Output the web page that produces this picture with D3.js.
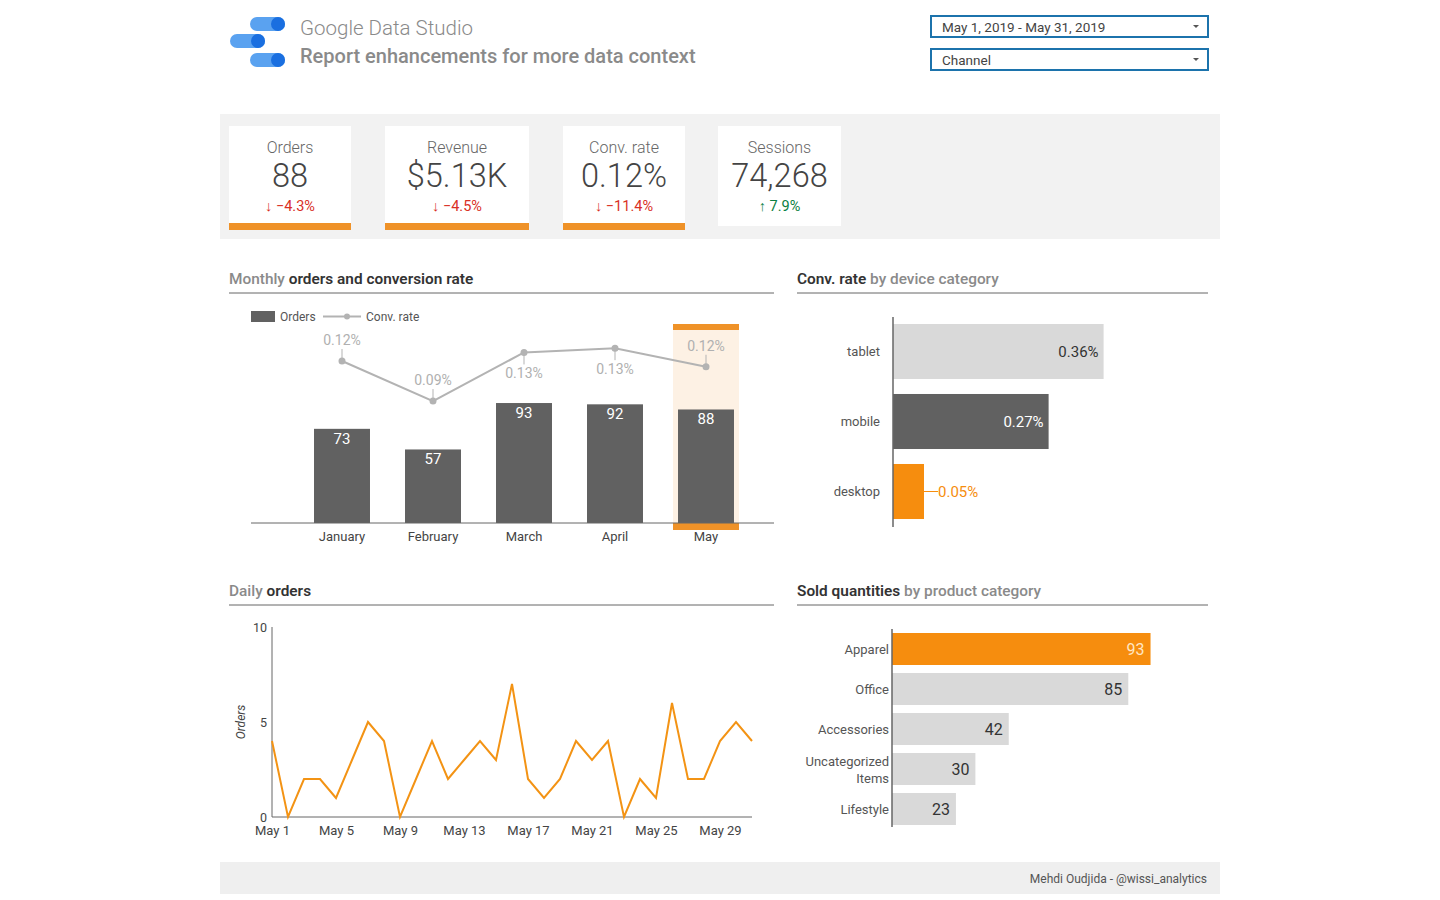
<!DOCTYPE html>
<html>
<head>
<meta charset="utf-8">
<script src="https://cdn.jsdelivr.net/npm/d3@7"></script>
<style>
  body { margin: 0; background: #fff; font-family: Roboto, "Open Sans", sans-serif; }
  svg text { font-family: Roboto, sans-serif; }
</style>
</head>
<body>
<div id="dashboard"></div>
<script>
// Scorecards
var kpiLabels = ["Orders", "Revenue", "Conv. rate", "Sessions"]
var kpiValues = ["88", "$5.13K", "0.12%", "74,268"]
var kpiDeltas = [-4.3, -4.5, -11.4, 7.9]

// Monthly orders and conversion rate
var months = ["January", "February", "March", "April", "May"]
var monthlyOrders = [73, 57, 93, 92, 88]
var monthlyConv = [0.122, 0.094, 0.128, 0.131, 0.118]
var convLabelAbove = [true, true, false, false, true]

// Conv. rate by device category
var devices = ["tablet", "mobile", "desktop"]
var deviceConv = [0.36, 0.266, 0.053]

// Daily orders (May 1 - May 31)
var dayNumbers = d3.range(1, 32)
var dailyOrders = [4, 0, 2, 2, 1, 3, 5, 4, 0, 2, 4, 2, 3, 4, 3, 7, 2, 1, 2, 4, 3, 4, 0, 2, 1, 6, 2, 2, 4, 5, 4]
var dailyTicks = [1, 5, 9, 13, 17, 21, 25, 29]

// Sold quantities by product category
var products = ["Apparel", "Office", "Accessories", "Uncategorized Items", "Lifestyle"]
var productQty = [93, 85, 42, 30, 23]

var orange = "#f68d0e"
var darkGray = "#616161"
var lightGray = "#d9d9d9"

var svg = d3.select("#dashboard").append("svg")
  .attr("width", 1440)
  .attr("height", 900)

// ---------- Header ----------
var logo = svg.append("g").attr("transform", "translate(230,17)")
var pills = [{ x: 20, y: 0 }, { x: 0, y: 17 }, { x: 20, y: 36 }]
pills.forEach(function (p) {
  logo.append("rect").attr("x", p.x).attr("y", p.y).attr("width", 35).attr("height", 14)
    .attr("rx", 7).attr("fill", "#5aa2f0")
  logo.append("circle").attr("cx", p.x + 28).attr("cy", p.y + 7).attr("r", 7).attr("fill", "#1a6fe0")
})

svg.append("text").attr("x", 300).attr("y", 35)
  .attr("font-size", 20.5).attr("font-weight", 300).attr("fill", "#8a8a8a")
  .text("Google Data Studio")
svg.append("text").attr("x", 300).attr("y", 63)
  .attr("font-size", 20).attr("font-weight", 500).attr("fill", "#8a8a8a")
  .text("Report enhancements for more data context")

// Date range + filter controls
var controls = ["May 1, 2019 - May 31, 2019", "Channel"]
controls.forEach(function (c, i) {
  var g = svg.append("g").attr("transform", "translate(931," + (16 + i * 33) + ")")
  g.append("rect").attr("width", 277).attr("height", 21)
    .attr("fill", "#fff").attr("stroke", "#1c73ac").attr("stroke-width", 2)
  g.append("text").attr("x", 11).attr("y", 15.5).attr("font-size", 13.5).attr("fill", "#444").text(c)
  g.append("path").attr("d", "M262,9 l6,0 l-3,3 z").attr("fill", "#555")
})

// ---------- Scorecards ----------
svg.append("rect").attr("x", 220).attr("y", 114).attr("width", 1000).attr("height", 125).attr("fill", "#f2f2f2")

var cardX = [229, 385, 563, 718]
var cardW = [122, 144, 122, 123]
kpiLabels.forEach(function (label, i) {
  var g = svg.append("g").attr("transform", "translate(" + cardX[i] + ",126)")
  var w = cardW[i]
  var up = kpiDeltas[i] > 0
  g.append("rect").attr("width", w).attr("height", up ? 100 : 104).attr("fill", "#fff")
  if (!up) {
    g.append("rect").attr("y", 97).attr("width", w).attr("height", 7).attr("fill", "#ef9228")
  }
  g.append("text").attr("x", w / 2).attr("y", 27).attr("text-anchor", "middle")
    .attr("font-size", 16).attr("font-weight", 300).attr("fill", "#666").text(label)
  g.append("text").attr("x", w / 2).attr("y", 61).attr("text-anchor", "middle")
    .attr("font-size", 32.5).attr("font-weight", 300).attr("fill", "#444").text(kpiValues[i])
  g.append("text").attr("x", w / 2).attr("y", 85).attr("text-anchor", "middle")
    .attr("font-size", 14.5).attr("fill", up ? "#0b8043" : "#d93025")
    .text((up ? "\u2191 " : "\u2193 ") + d3.format(".1f")(kpiDeltas[i]) + "%")
})

// ---------- Section titles ----------
function sectionTitle(x, y, w, parts) {
  var t = svg.append("text").attr("x", x).attr("y", y).attr("font-size", 15.4)
  parts.forEach(function (p) {
    t.append("tspan").attr("font-weight", p.bold ? 600 : 500).attr("fill", p.bold ? "#333" : "#8a8a8a").text(p.t)
  })
  svg.append("line").attr("x1", x).attr("x2", x + w).attr("y1", y + 9).attr("y2", y + 9)
    .attr("stroke", "#666").attr("stroke-width", 1)
}
sectionTitle(229, 284, 545, [{ t: "Monthly " }, { t: "orders and conversion rate", bold: true }])
sectionTitle(797, 284, 411, [{ t: "Conv. rate", bold: true }, { t: " by device category" }])
sectionTitle(229, 596, 545, [{ t: "Daily " }, { t: "orders", bold: true }])
sectionTitle(797, 596, 411, [{ t: "Sold quantities", bold: true }, { t: " by product category" }])

// ---------- Monthly orders and conversion rate ----------
var mx = d3.scaleBand().domain(months).range([296.5, 751.5]).paddingInner(0.385).paddingOuter(0.1925)
var my = d3.scaleLinear().domain([0, 100]).range([523, 394])
var my2 = d3.scaleLinear().domain([0.05, 0.15]).range([464, 321])

// highlight for selected month
var hl = mx("May") + mx.bandwidth() / 2
svg.append("rect").attr("x", hl - 33).attr("y", 324).attr("width", 66).attr("height", 206).attr("fill", "#fdf1e4")
svg.append("rect").attr("x", hl - 33).attr("y", 324).attr("width", 66).attr("height", 6).attr("fill", "#ef9228")

svg.append("g").selectAll("rect").data(months).enter().append("rect")
  .attr("x", function (d) { return mx(d) })
  .attr("y", function (d, i) { return my(monthlyOrders[i]) })
  .attr("width", mx.bandwidth())
  .attr("height", function (d, i) { return my(0) - my(monthlyOrders[i]) })
  .attr("fill", darkGray)

svg.append("g").selectAll("text").data(months).enter().append("text")
  .attr("x", function (d) { return mx(d) + mx.bandwidth() / 2 })
  .attr("y", function (d, i) { return my(monthlyOrders[i]) + 15 })
  .attr("text-anchor", "middle").attr("font-size", 15).attr("fill", "#fff")
  .text(function (d, i) { return monthlyOrders[i] })

svg.append("rect").attr("x", hl - 33).attr("y", 523).attr("width", 66).attr("height", 7).attr("fill", "#ef9228")

var xAxisM = svg.append("g").attr("transform", "translate(0,523)")
  .call(d3.axisBottom(mx).tickSize(0).tickPadding(9))
xAxisM.select(".domain").remove()
xAxisM.selectAll("text").attr("font-size", 13).attr("fill", "#444")
svg.append("line").attr("x1", 251).attr("x2", 774).attr("y1", 523).attr("y2", 523).attr("stroke", "#666")

var convLine = d3.line()
  .x(function (d, i) { return mx(months[i]) + mx.bandwidth() / 2 })
  .y(function (d) { return my2(d) })
svg.append("path").datum(monthlyConv).attr("d", convLine)
  .attr("fill", "none").attr("stroke", "#b3b3b3").attr("stroke-width", 2)

var convPts = svg.append("g").selectAll("g").data(monthlyConv).enter().append("g")
  .attr("transform", function (d, i) {
    return "translate(" + (mx(months[i]) + mx.bandwidth() / 2) + "," + my2(d) + ")"
  })
convPts.append("circle").attr("r", 3.5).attr("fill", "#b3b3b3")
convPts.append("line").attr("x1", 0).attr("x2", 0).attr("y1", 0)
  .attr("y2", function (d, i) { return convLabelAbove[i] ? -12 : 12 })
  .attr("stroke", "#b3b3b3")
convPts.append("text").attr("text-anchor", "middle").attr("font-size", 14).attr("fill", "#b0b0b0")
  .attr("y", function (d, i) { return convLabelAbove[i] ? -16 : 26 })
  .text(function (d) { return d3.format(".2f")(d) + "%" })

// legend
var legend = svg.append("g").attr("transform", "translate(251,311)")
legend.append("rect").attr("width", 24).attr("height", 11).attr("fill", darkGray)
legend.append("text").attr("x", 29).attr("y", 10).attr("font-size", 12).attr("fill", "#555").text("Orders")
legend.append("line").attr("x1", 72).attr("x2", 110).attr("y1", 5.5).attr("y2", 5.5).attr("stroke", "#b3b3b3").attr("stroke-width", 2)
legend.append("circle").attr("cx", 96).attr("cy", 5.5).attr("r", 3).attr("fill", "#b3b3b3")
legend.append("text").attr("x", 115).attr("y", 10).attr("font-size", 12).attr("fill", "#555").text("Conv. rate")

// ---------- Conv. rate by device category ----------
var dy = d3.scaleBand().domain(devices).range([316.5, 526.5]).paddingInner(0.214).paddingOuter(0.107)
var dx = d3.scaleLinear().domain([0, 0.4]).range([893, 1127])
var deviceColor = [lightGray, darkGray, orange]

svg.append("g").selectAll("rect").data(devices).enter().append("rect")
  .attr("x", dx(0)).attr("y", function (d) { return dy(d) })
  .attr("width", function (d, i) { return dx(deviceConv[i]) - dx(0) })
  .attr("height", dy.bandwidth())
  .attr("fill", function (d, i) { return deviceColor[i] })

devices.forEach(function (d, i) {
  var cy = dy(d) + dy.bandwidth() / 2
  var end = dx(deviceConv[i])
  var label = d3.format(".2f")(deviceConv[i]) + "%"
  if (i < 2) {
    svg.append("text").attr("x", end - 5).attr("y", cy + 5).attr("text-anchor", "end")
      .attr("font-size", 15).attr("fill", i === 0 ? "#333" : "#fff").text(label)
  } else {
    svg.append("line").attr("x1", end).attr("x2", end + 14).attr("y1", cy).attr("y2", cy).attr("stroke", orange)
    svg.append("text").attr("x", end + 14).attr("y", cy + 5)
      .attr("font-size", 15).attr("fill", orange).text(label)
  }
})

var yAxisD = svg.append("g").attr("transform", "translate(893,0)")
  .call(d3.axisLeft(dy).tickSize(0).tickPadding(13))
yAxisD.select(".domain").remove()
yAxisD.selectAll("text").attr("font-size", 13).attr("fill", "#555")
svg.append("line").attr("x1", 893).attr("x2", 893).attr("y1", 317).attr("y2", 527).attr("stroke", "#666").attr("stroke-width", 1.5)

// ---------- Daily orders ----------
var tx = d3.scaleLinear().domain([1, 31]).range([272, 752])
var ty = d3.scaleLinear().domain([0, 10]).range([817, 627])

var yAxisT = svg.append("g").attr("transform", "translate(272,0)")
  .call(d3.axisLeft(ty).tickValues([0, 5, 10]).tickSize(0).tickPadding(5))
yAxisT.select(".domain").remove()
yAxisT.selectAll("text").attr("font-size", 12.5).attr("fill", "#444")

var xAxisT = svg.append("g").attr("transform", "translate(0,817)")
  .call(d3.axisBottom(tx).tickValues(dailyTicks).tickSize(0).tickPadding(9)
    .tickFormat(function (d) { return "May " + d }))
xAxisT.select(".domain").remove()
xAxisT.selectAll("text").attr("font-size", 13).attr("fill", "#444")

svg.append("line").attr("x1", 272).attr("x2", 272).attr("y1", 627).attr("y2", 817).attr("stroke", "#666")
svg.append("line").attr("x1", 272).attr("x2", 752).attr("y1", 817).attr("y2", 817).attr("stroke", "#666")

svg.append("text").attr("transform", "translate(245,722) rotate(-90)")
  .attr("text-anchor", "middle").attr("font-size", 12).attr("font-style", "italic").attr("fill", "#444")
  .text("Orders")

var dailyLine = d3.line()
  .x(function (d, i) { return tx(dayNumbers[i]) })
  .y(function (d) { return ty(d) })
svg.append("path").datum(dailyOrders).attr("d", dailyLine)
  .attr("fill", "none").attr("stroke", "#f39314").attr("stroke-width", 2)

// ---------- Sold quantities by product category ----------
var py = d3.scaleBand().domain(products).range([629, 829]).paddingInner(0.2).paddingOuter(0.1)
var px = d3.scaleLinear().domain([0, 100]).range([892, 1170])

svg.append("g").selectAll("rect").data(products).enter().append("rect")
  .attr("x", px(0)).attr("y", function (d) { return py(d) })
  .attr("width", function (d, i) { return px(productQty[i]) - px(0) })
  .attr("height", py.bandwidth())
  .attr("fill", function (d, i) { return i === 0 ? orange : lightGray })

svg.append("g").selectAll("text").data(products).enter().append("text")
  .attr("x", function (d, i) { return px(productQty[i]) - 6 })
  .attr("y", function (d) { return py(d) + py.bandwidth() / 2 + 6 })
  .attr("text-anchor", "end").attr("font-size", 16)
  .attr("fill", function (d, i) { return i === 0 ? "#ffe7c4" : "#333" })
  .text(function (d, i) { return productQty[i] })

products.forEach(function (p) {
  var cy = py(p) + py.bandwidth() / 2
  var words = p === "Uncategorized Items" ? ["Uncategorized", "Items"] : [p]
  var t = svg.append("text").attr("x", 889).attr("text-anchor", "end").attr("font-size", 13).attr("fill", "#555")
  words.forEach(function (w, k) {
    t.append("tspan").attr("x", 889)
      .attr("y", cy + 5 + (k - (words.length - 1) / 2) * 17)
      .text(w)
  })
})
svg.append("line").attr("x1", 892).attr("x2", 892).attr("y1", 629).attr("y2", 827).attr("stroke", "#666").attr("stroke-width", 1.5)

// ---------- Footer ----------
svg.append("rect").attr("x", 220).attr("y", 862).attr("width", 1000).attr("height", 32).attr("fill", "#efefef")
svg.append("text").attr("x", 1207).attr("y", 883).attr("text-anchor", "end")
  .attr("font-size", 12).attr("fill", "#555").text("Mehdi Oudjida - @wissi_analytics")
</script>
</body>
</html>
